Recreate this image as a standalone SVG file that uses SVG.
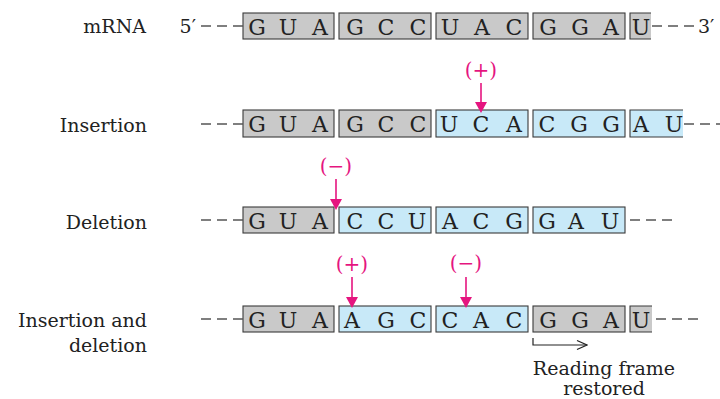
<svg xmlns="http://www.w3.org/2000/svg" width="720" height="399" viewBox="0 0 720 399">
<style>
.lbl{font-family:"DejaVu Serif","Liberation Serif",serif;font-size:19px;fill:#222;text-anchor:end}
.nt{font-family:"DejaVu Serif","Liberation Serif",serif;font-size:22px;fill:#222;text-anchor:middle}
.pk{font-family:"DejaVu Serif","Liberation Serif",serif;font-size:20px;fill:#e5157f;text-anchor:middle}
.g{fill:#c9c9c9;stroke:#3a3a3a;stroke-width:1.1}
.b{fill:#c8e9f8;stroke:#3a3a3a;stroke-width:1.1}
.gf{fill:#c9c9c9}
.bf{fill:#c8e9f8}
.edge{fill:none;stroke:#3a3a3a;stroke-width:1.1}
.dash{stroke:#555;stroke-width:1.3;stroke-dasharray:10 6}
.pkl{stroke:#e5157f;stroke-width:1.6}
.pkh{fill:#e5157f}
.rf{font-family:"DejaVu Serif","Liberation Serif",serif;font-size:19px;fill:#222;text-anchor:middle}
</style>
<defs>
<marker id="open" markerWidth="12" markerHeight="12" refX="11" refY="6" orient="auto" markerUnits="userSpaceOnUse">
<path d="M1,1.5 L11,6 L1,10.5" fill="none" stroke="#222" stroke-width="1.2"/>
</marker>
</defs>

<g id="row-mrna">
<text class="lbl" x="146" y="33">mRNA</text>
<text class="lbl" x="196" y="33">5′</text>
<rect class="g" x="243" y="13" width="91" height="26"/>
<text class="nt" x="257" y="35">G</text><text class="nt" x="288" y="35">U</text><text class="nt" x="320" y="35">A</text>
<rect class="g" x="339" y="13" width="92" height="26"/>
<text class="nt" x="355" y="35">G</text><text class="nt" x="386" y="35">C</text><text class="nt" x="418" y="35">C</text>
<rect class="g" x="436" y="13" width="92" height="26"/>
<text class="nt" x="450" y="35">U</text><text class="nt" x="482" y="35">A</text><text class="nt" x="514" y="35">C</text>
<rect class="g" x="533" y="13" width="92" height="26"/>
<text class="nt" x="548" y="35">G</text><text class="nt" x="580" y="35">G</text><text class="nt" x="611" y="35">A</text>
<rect class="gf" x="630" y="13" width="21" height="26"/>
<path class="edge" d="M651,13 H630 V39 H651"/>
<text class="nt" x="641" y="35">U</text>
<text class="lbl" x="698" y="33" style="text-anchor:start">3′</text>
</g>

<g id="row-insertion">
<text class="lbl" x="147" y="132">Insertion</text>
<rect class="g" x="243" y="110" width="91" height="27"/>
<text class="nt" x="257" y="132">G</text><text class="nt" x="288" y="132">U</text><text class="nt" x="320" y="132">A</text>
<rect class="g" x="339" y="110" width="92" height="27"/>
<text class="nt" x="355" y="132">G</text><text class="nt" x="386" y="132">C</text><text class="nt" x="418" y="132">C</text>
<rect class="b" x="436" y="110" width="92" height="27"/>
<text class="nt" x="449" y="132">U</text><text class="nt" x="481" y="132">C</text><text class="nt" x="514" y="132">A</text>
<rect class="b" x="533" y="110" width="92" height="27"/>
<text class="nt" x="547" y="132">C</text><text class="nt" x="579" y="132">G</text><text class="nt" x="611" y="132">G</text>
<rect class="bf" x="630" y="110" width="53" height="27"/>
<path class="edge" d="M683,110 H630 V137 H683"/>
<text class="nt" x="641" y="132">A</text><text class="nt" x="674" y="132">U</text>
<text class="pk" x="481" y="77">(+)</text>
</g>

<g id="row-deletion">
<text class="lbl" x="147" y="229">Deletion</text>
<rect class="g" x="243" y="207" width="91" height="26"/>
<text class="nt" x="257" y="229">G</text><text class="nt" x="288" y="229">U</text><text class="nt" x="320" y="229">A</text>
<rect class="b" x="339" y="207" width="92" height="26"/>
<text class="nt" x="355" y="229">C</text><text class="nt" x="386" y="229">C</text><text class="nt" x="417" y="229">U</text>
<rect class="b" x="436" y="207" width="92" height="26"/>
<text class="nt" x="450" y="229">A</text><text class="nt" x="481" y="229">C</text><text class="nt" x="514" y="229">G</text>
<rect class="b" x="533" y="207" width="92" height="26"/>
<text class="nt" x="547" y="229">G</text><text class="nt" x="576" y="229">A</text><text class="nt" x="610" y="229">U</text>
<text class="pk" x="336" y="173">(−)</text>
</g>

<g id="row-insdel">
<text class="lbl" x="147" y="327">Insertion and</text>
<text class="lbl" x="147" y="352">deletion</text>
<rect class="g" x="243" y="306" width="91" height="26"/>
<text class="nt" x="257" y="328">G</text><text class="nt" x="288" y="328">U</text><text class="nt" x="320" y="328">A</text>
<rect class="b" x="339" y="306" width="92" height="26"/>
<text class="nt" x="352" y="328">A</text><text class="nt" x="386" y="328">G</text><text class="nt" x="418" y="328">C</text>
<rect class="b" x="436" y="306" width="92" height="26"/>
<text class="nt" x="450" y="328">C</text><text class="nt" x="481" y="328">A</text><text class="nt" x="514" y="328">C</text>
<rect class="g" x="533" y="306" width="92" height="26"/>
<text class="nt" x="548" y="328">G</text><text class="nt" x="580" y="328">G</text><text class="nt" x="611" y="328">A</text>
<rect class="gf" x="630" y="306" width="22" height="26"/>
<path class="edge" d="M652,306 H630 V332 H652"/>
<text class="nt" x="641" y="328">U</text>
<text class="pk" x="352" y="271">(+)</text>
<text class="pk" x="466" y="270">(−)</text>
</g>

<g id="reading-frame">
<text class="rf" x="604" y="375">Reading frame</text>
<text class="rf" x="604" y="395">restored</text>
</g>

<g id="connectors">
<line class="dash" x1="201" y1="26" x2="243" y2="26"/>
<line class="dash" x1="652" y1="26" x2="696" y2="26"/>
<line class="dash" x1="201" y1="124" x2="243" y2="124"/>
<line class="dash" x1="684" y1="124" x2="720" y2="124"/>
<line class="dash" x1="201" y1="220" x2="243" y2="220"/>
<line class="dash" x1="630" y1="220" x2="672" y2="220"/>
<line class="dash" x1="201" y1="319" x2="243" y2="319"/>
<line class="dash" x1="656" y1="319" x2="698" y2="319"/>

<line class="pkl" x1="481" y1="83" x2="481" y2="103"/>
<polygon class="pkh" points="475,102 487,102 481,113"/>
<line class="pkl" x1="336" y1="179" x2="336" y2="200"/>
<polygon class="pkh" points="330,199 342,199 336,210"/>
<line class="pkl" x1="352" y1="277" x2="352" y2="298"/>
<polygon class="pkh" points="346,297 358,297 352,308"/>
<line class="pkl" x1="466" y1="277" x2="466" y2="298"/>
<polygon class="pkh" points="460,297 472,297 466,308"/>

<path d="M533,338 V345 H587" fill="none" stroke="#222" stroke-width="1.2" marker-end="url(#open)"/>
</g>
</svg>
